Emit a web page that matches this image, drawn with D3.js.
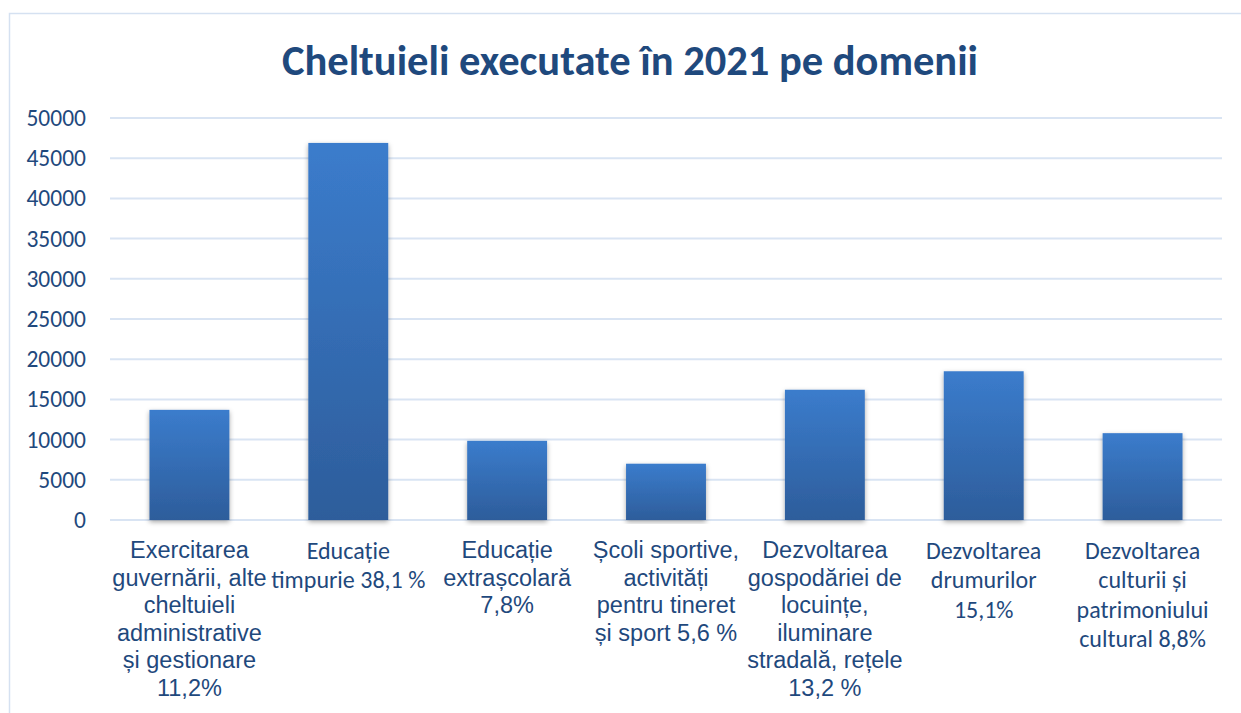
<!DOCTYPE html>
<html>
<head>
<meta charset="utf-8">
<script src="https://cdn.jsdelivr.net/npm/d3@7"></script>
<style>
    html, body { margin: 0; padding: 0; background: #fff; }
    svg { display: block; }
</style>
</head>
<body>
<div id="container"></div>
<script>
// Data
const categories = [
    ["Exercitarea", "guvernării, alte", "cheltuieli", "administrative", "și gestionare", "11,2%"],
    ["Educație", "timpurie 38,1 %"],
    ["Educație", "extrașcolară", "7,8%"],
    ["Școli sportive,", "activități", "pentru tineret", "și sport 5,6 %"],
    ["Dezvoltarea", "gospodăriei de", "locuințe,", "iluminare", "stradală, rețele", "13,2 %"],
    ["Dezvoltarea", "drumurilor", "15,1%"],
    ["Dezvoltarea", "culturii și", "patrimoniului", "cultural 8,8%"]
];
const values = [13700, 46900, 9850, 7000, 16200, 18500, 10800];
const yTicks = [0, 5000, 10000, 15000, 20000, 25000, 30000, 35000, 40000, 45000, 50000];
const title = "Cheltuieli executate în 2021 pe domenii";

const width = 1241, height = 713;
const margin = ({top: 118, right: 19, bottom: 193, left: 110});
const textColor = "#1f497d";
const calibri = "Carlito, Lato, 'Open Sans', sans-serif";
const arial = "'Liberation Sans', Arial, sans-serif";
// labels that were typed in the Calibri-like face in the original
const calibriLabels = new Set([1, 5, 6]);

const svg = d3.select("#container").append("svg")
    .attr("width", width)
    .attr("height", height);

// soft drop shadow + vertical gradient for bars
const defs = svg.append("defs");
const grad = defs.append("linearGradient")
    .attr("id", "barGrad")
    .attr("x1", 0).attr("y1", 0).attr("x2", 0).attr("y2", 1);
grad.append("stop").attr("offset", "0%").attr("stop-color", "#3b7ccc");
grad.append("stop").attr("offset", "100%").attr("stop-color", "#2d5d9b");
const shadow = defs.append("filter")
    .attr("id", "shadow")
    .attr("x", "-20%").attr("y", "-5%").attr("width", "140%").attr("height", "112%");
shadow.append("feDropShadow")
    .attr("dx", 0).attr("dy", 2)
    .attr("stdDeviation", 2.5)
    .attr("flood-color", "#000")
    .attr("flood-opacity", 0.35);

// outer frame (top and left edges visible)
svg.append("path")
    .attr("d", `M9.5,${height} V13.5 H${width}`)
    .attr("fill", "none")
    .attr("stroke", "#d5e1f1")
    .attr("stroke-width", 1.5);

const x = d3.scaleBand()
    .domain(d3.range(categories.length))
    .range([margin.left, width - margin.right])
    .paddingInner(0.497)
    .paddingOuter(0.2485);

const y = d3.scaleLinear()
    .domain([0, 50000])
    .range([height - margin.bottom, margin.top]);

// gridlines
svg.append("g")
    .selectAll("line")
    .data(yTicks)
    .join("line")
    .attr("x1", margin.left)
    .attr("x2", width - margin.right)
    .attr("y1", d => y(d))
    .attr("y2", d => y(d))
    .attr("stroke", "#d9e4f3")
    .attr("stroke-width", 2);

// y axis labels
const gy = svg.append("g")
    .attr("transform", `translate(${margin.left},0)`)
    .call(d3.axisLeft(y).tickValues(yTicks).tickSize(0).tickPadding(24).tickFormat(d3.format("d")));
gy.select(".domain").remove();
gy.selectAll("text")
    .attr("fill", textColor)
    .attr("font-family", calibri)
    .attr("font-size", 23.5);

// bars
svg.append("g")
    .selectAll("rect")
    .data(values)
    .join("rect")
    .attr("x", (d, i) => x(i))
    .attr("y", d => y(d))
    .attr("width", x.bandwidth())
    .attr("height", d => y(0) - y(d))
    .attr("fill", "url(#barGrad)")
    .attr("filter", "url(#shadow)");

// category labels
const labels = svg.append("g")
    .selectAll("text")
    .data(categories)
    .join("text")
    .attr("text-anchor", "middle")
    .attr("fill", textColor)
    .attr("font-family", (d, i) => calibriLabels.has(i) ? calibri : arial)
    .attr("font-size", (d, i) => calibriLabels.has(i) ? 24 : 23.5)
    .attr("x", (d, i) => x(i) + x.bandwidth() / 2)
    .attr("y", (d, i) => calibriLabels.has(i) ? 559 : 558);
labels.each(function (d, k) {
    const step = calibriLabels.has(k) ? 29.3 : 27.6;
    d3.select(this).selectAll("tspan")
        .data(d)
        .join("tspan")
        .attr("x", this.getAttribute("x"))
        .attr("dy", (t, i) => i === 0 ? 0 : step)
        .text(t => t);
});

// title
svg.append("text")
    .attr("x", 630)
    .attr("y", 75)
    .attr("text-anchor", "middle")
    .attr("fill", textColor)
    .attr("font-family", calibri)
    .attr("font-weight", "bold")
    .attr("font-size", 42.5)
    .text(title);
</script>
</body>
</html>
